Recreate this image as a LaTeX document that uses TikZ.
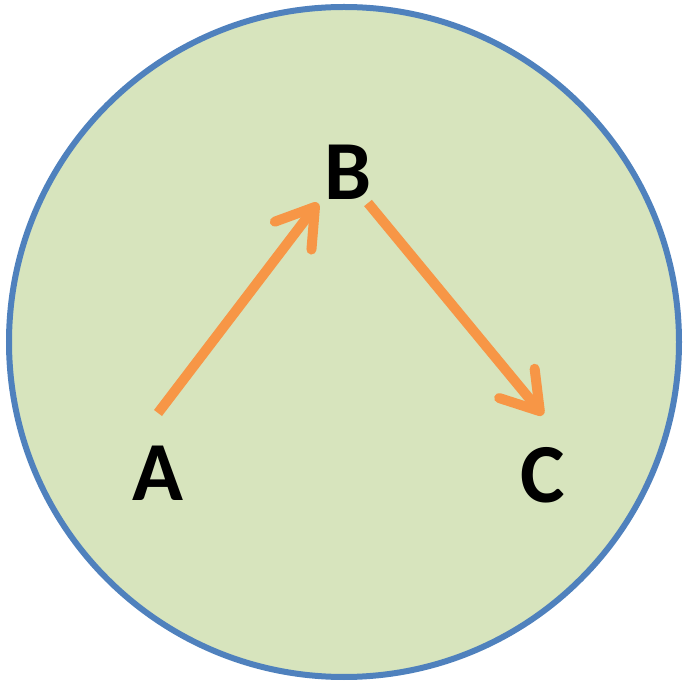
\documentclass[tikz,border=0pt]{standalone}
\usepackage{fontspec}
\setmainfont{Carlito}
\usetikzlibrary{arrows.meta}
\definecolor{cfill}{HTML}{D7E4BD}
\definecolor{cline}{HTML}{4F81BD}
\definecolor{corange}{HTML}{F79646}
\tikzset{
  letter/.style={font=\fontsize{84}{84}\selectfont\bfseries, text=black, inner sep=0pt},
  conn/.style={draw=corange, line width=10pt, -{Straight Barb[length=36pt, width=46pt, line width=10pt, round]}}
}
\begin{document}
\begin{tikzpicture}[x=1pt,y=-1pt]
\useasboundingbox (0,0) rectangle (686,684);
\node[circle, draw=cline, fill=cfill, line width=6pt, minimum size=670pt, inner sep=0pt] (circ) at (344,342) {};
\node[letter] (A) at (158,473) {A};
\node[letter] (B) at (348,172) {B};
\node[letter] (C) at (543,475) {C};
\coordinate (a1) at (158,413);
\coordinate (b1) at (318,203);
\coordinate (b2) at (368,203);
\coordinate (c1) at (543,415);
\draw[conn] (a1) -- (b1);
\draw[conn] (b2) -- (c1);
\end{tikzpicture}
\end{document}
